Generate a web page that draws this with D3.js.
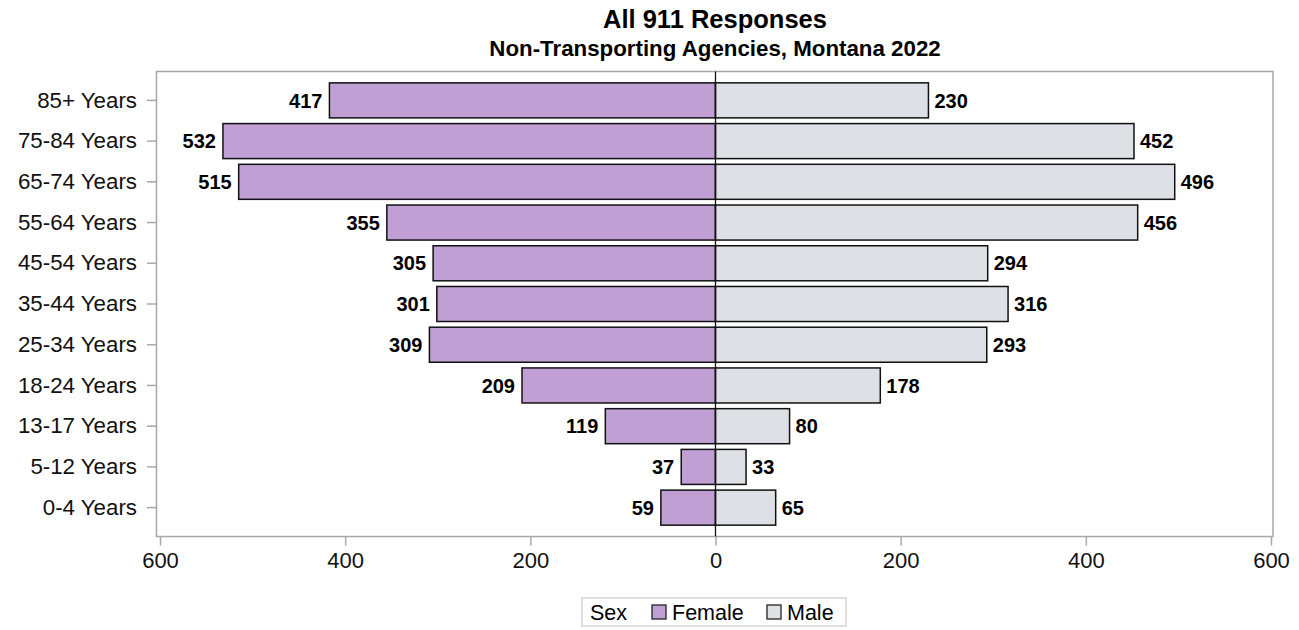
<!DOCTYPE html>
<html><head><meta charset="utf-8">
<script src="https://cdn.jsdelivr.net/npm/d3@7"></script>
<style>body{margin:0;background:#fff}svg{display:block;font-family:"Liberation Sans",Arial,sans-serif}</style>
</head><body><svg id="c" width="1299" height="630"></svg>
<script>
const categories = ["85+ Years","75-84 Years","65-74 Years","55-64 Years","45-54 Years","35-44 Years","25-34 Years","18-24 Years","13-17 Years","5-12 Years","0-4 Years"];
const female = [417,532,515,355,305,301,309,209,119,37,59];
const male = [230,452,496,456,294,316,293,178,80,33,65];
const xTicks = [-600,-400,-200,0,200,400,600];
const fColor = "#C0A0D4", mColor = "#DDE1E6", axisColor = "#A4A8AD";

const svg = d3.select("#c");
const fl = 156.5, fr = 1273, ft = 71.5, fb = 536.5;
const x = d3.scaleLinear().domain([-600,600]).range([160,1271]);
const y = d3.scaleBand().domain(categories).range([ft+8.5, fb-8.5]).paddingInner(0.14).paddingOuter(0.07);

svg.append("text").attr("x",715).attr("y",28).attr("text-anchor","middle").attr("font-weight","bold").attr("font-size",25.5).text("All 911 Responses");
svg.append("text").attr("x",715).attr("y",56).attr("text-anchor","middle").attr("font-weight","bold").attr("font-size",22.3).text("Non-Transporting Agencies, Montana 2022");

svg.append("rect").attr("x",fl).attr("y",ft).attr("width",fr-fl).attr("height",fb-ft).attr("fill","none").attr("stroke",axisColor).attr("stroke-width",1.5);

const g = svg.append("g");
categories.forEach((c,i)=>{
  const yy = y(c), h = y.bandwidth();
  g.append("rect").attr("x",x(-female[i])).attr("y",yy).attr("width",x(0)-x(-female[i])).attr("height",h).attr("fill",fColor).attr("stroke","#111").attr("stroke-width",1.5);
  g.append("rect").attr("x",x(0)).attr("y",yy).attr("width",x(male[i])-x(0)).attr("height",h).attr("fill",mColor).attr("stroke","#111").attr("stroke-width",1.5);
  g.append("text").attr("x",x(-female[i])-7).attr("y",yy+h/2).attr("dy","0.36em").attr("text-anchor","end").attr("font-weight","bold").attr("font-size",20).text(female[i]);
  g.append("text").attr("x",x(male[i])+6).attr("y",yy+h/2).attr("dy","0.36em").attr("text-anchor","start").attr("font-weight","bold").attr("font-size",20).text(male[i]);
});
svg.append("line").attr("x1",x(0)).attr("x2",x(0)).attr("y1",ft).attr("y2",fb).attr("stroke","#111").attr("stroke-width",1.3);

// y axis
const ya = svg.append("g").attr("transform",`translate(${fl},0)`).call(d3.axisLeft(y).tickSize(9.5).tickPadding(10));
ya.select(".domain").remove();
ya.selectAll("line").attr("stroke",axisColor).attr("stroke-width",1.5);
ya.selectAll("text").attr("font-size",22.3).attr("fill","#111").attr("font-family","Liberation Sans, Arial, sans-serif");

// x axis
const xa = svg.append("g").attr("transform",`translate(0,${fb})`).call(d3.axisBottom(x).tickValues(xTicks).tickFormat(d=>Math.abs(d)).tickSize(9).tickPadding(7));
xa.select(".domain").remove();
xa.selectAll("line").attr("stroke",axisColor).attr("stroke-width",1.5);
xa.selectAll("text").attr("font-size",22).attr("fill","#111").attr("font-family","Liberation Sans, Arial, sans-serif");

// legend
const lg = svg.append("g");
lg.append("rect").attr("x",582).attr("y",598).attr("width",264).attr("height",28).attr("fill","#fff").attr("stroke","#C8CBCE").attr("stroke-width",1.2);
lg.append("text").attr("x",590).attr("y",620).attr("font-size",21.5).text("Sex");
const items = [["Female",fColor,652],["Male",mColor,767]];
items.forEach(([t,col,xx])=>{
  lg.append("rect").attr("x",xx).attr("y",605).attr("width",14).attr("height",14).attr("fill",col).attr("stroke","#222").attr("stroke-width",1.3);
  lg.append("text").attr("x",xx+20).attr("y",620).attr("font-size",21.5).text(t);
});
</script></body></html>
